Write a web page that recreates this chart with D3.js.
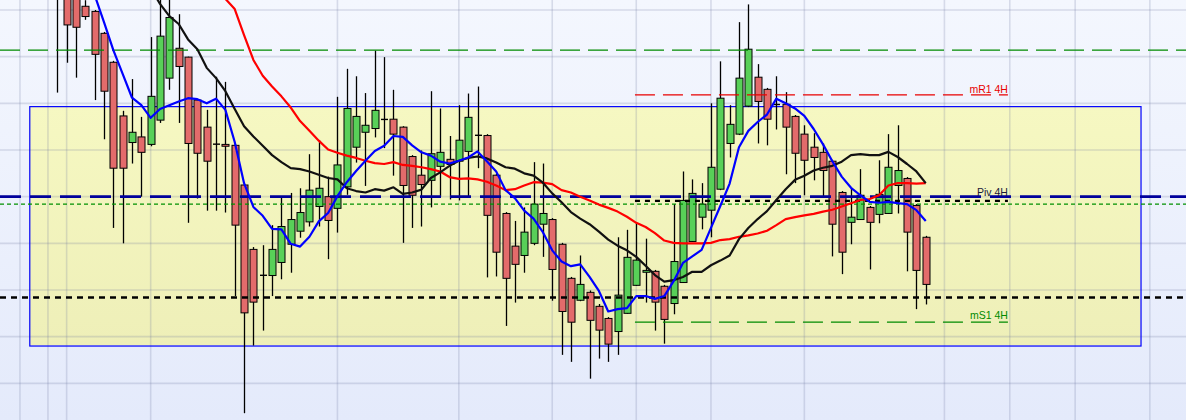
<!DOCTYPE html>
<html><head><meta charset="utf-8">
<script src="https://cdn.jsdelivr.net/npm/d3@7"></script>
<style>body{margin:0;background:#fff}svg{display:block}</style>
</head><body>
<svg id="chart" width="1186" height="420"></svg>
<script>
// ---- data (price units, candle index on x) ----
const openP = [188.6,183.2,182.8,180.8,179.7,175.0,168.8,157.3,151.6,152.8,
151.2,156.4,165.4,171.8,169.9,160.7,154.9,151.3,151.2,151.0,
142.5,128.7,123.2,123.1,125.9,129.8,132.6,134.6,137.9,140.0,
137.5,142.1,150.6,153.8,154.6,156.6,156.6,154.9,148.6,144.6,
143.5,146.5,148.0,147.6,149.7,153.2,153.1,144.6,136.4,129.4,
127.4,130.0,134.1,135.1,129.8,122.5,117.8,119.5,116.5,113.9,
111.1,115.0,121.0,123.8,124.0,120.8,117.1,121.6,130.4,135.6,
137.1,141.6,151.4,153.4,159.4,165.6,163.0,159.8,159.8,157.2,
153.4,150.6,149.5,147.6,140.9,134.5,135.1,137.7,136.2,136.4,
142.4,143.9,138.1,131.3];
const highP = [190.7,185.4,184.3,182.1,180.0,175.3,169.1,158.4,165.2,157.1,
174.2,182.6,182.8,179.1,170.0,160.9,158.6,165.7,164.6,151.3,
142.7,129.2,129.6,133.9,139.9,140.8,141.8,149.1,152.1,144.3,
161.4,167.4,165.8,162.2,171.3,169.9,162.9,155.1,148.9,149.9,
162.6,158.9,153.0,159.6,162.1,163.6,153.4,144.9,136.7,134.8,
137.7,147.4,147.1,135.4,130.1,122.8,127.4,119.9,117.0,114.2,
131.3,132.9,134.3,131.0,124.3,121.1,138.4,145.4,143.7,142.9,
160.0,169.0,159.6,177.4,181.2,168.4,163.3,165.8,162.4,157.5,
155.3,153.6,151.4,147.9,141.2,141.8,145.9,138.0,147.8,153.4,
155.3,144.2,138.4,131.6];
const lowP = [162.3,168.7,165.5,177.9,160.7,152.3,133.3,130.0,147.1,140.0,
150.8,155.8,162.9,155.8,134.4,139.6,137.0,137.0,136.6,118.7,
93.6,108.1,111.3,118.7,122.3,123.7,131.2,133.6,133.6,126.6,
132.3,140.4,147.3,142.3,152.7,150.4,144.5,130.1,133.3,133.6,
137.7,140.0,139.4,139.2,140.0,146.1,122.7,122.9,112.3,117.3,
123.7,129.6,127.1,117.7,106.1,104.6,117.6,101.0,105.3,104.6,
106.1,114.9,120.9,117.3,111.3,108.5,114.8,121.5,130.3,133.0,
131.3,141.4,148.4,153.2,159.2,151.4,151.0,154.4,144.8,142.9,
140.3,143.5,139.9,127.2,123.4,129.8,135.0,124.4,134.3,136.3,
136.4,124.0,115.9,116.9];
const closeP = [183.2,176.8,176.3,178.6,170.5,162.6,146.1,146.1,153.8,149.5,
161.5,174.4,178.4,167.9,151.4,149.3,147.6,151.2,150.8,133.9,
115.1,117.4,123.1,128.7,133.6,135.1,136.6,141.4,141.8,134.9,
146.8,158.9,157.2,155.3,158.5,156.5,153.4,142.4,140.3,142.6,
149.2,149.5,146.9,152.1,157.0,153.1,136.0,128.1,122.5,125.5,
132.4,138.4,136.4,124.4,115.4,113.1,121.2,113.5,111.4,108.4,
118.9,127.0,126.4,124.2,117.4,113.7,126.1,139.2,140.7,138.4,
146.3,161.1,155.5,165.4,171.6,160.4,156.6,159.7,154.9,149.3,
147.8,148.4,145.6,134.1,128.1,135.6,140.3,134.5,140.5,146.3,
145.6,132.4,124.2,121.2];

// moving averages, first candle index of each
const fastStart = 4;
const fastMA = [183.2,177.4,171.4,166.3,161.2,159.6,156.9,158.8,159.6,160.4,
161.1,160.9,160.0,161.0,158.6,151.7,142.9,137.8,135.9,133.1,
133.0,129.9,129.3,131.4,134.7,136.5,140.1,143.1,145.5,147.7,
149.8,150.9,153.0,152.8,151.0,149.5,148.8,147.5,147.1,147.7,
148.4,149.7,147.6,145.4,141.4,139.7,137.0,135.3,132.4,128.5,
126.1,125.1,125.5,122.8,119.8,115.4,115.9,116.1,118.7,118.7,
118.1,118.7,121.9,125.8,127.2,128.6,133.3,138.0,142.8,150.6,
154.1,156.0,157.6,161.0,160.0,158.9,157.3,154.5,151.2,147.6,
144.3,141.9,140.3,138.9,138.7,138.9,138.6,138.4,137.1,134.8];
const midStart = 10;
const midMA = [184.7,181.3,178.7,177.0,173.7,171.6,167.6,165.4,162.6,158.8,
155.1,152.9,150.9,148.9,147.4,146.1,145.9,145.4,144.7,144.0,
143.7,141.8,141.2,140.9,141.6,141.3,142.0,140.6,140.9,141.5,
144.0,145.2,146.6,147.7,148.3,148.6,148.2,147.3,146.3,146.0,
145.0,144.5,143.0,140.7,138.8,136.7,135.3,134.1,132.5,130.8,
129.5,128.5,127.1,125.2,123.2,121.8,122.1,122.8,123.9,123.9,
125.3,126.3,127.4,130.9,133.3,135.2,136.9,139.3,141.6,143.6,
144.5,145.6,146.2,146.6,147.5,148.9,149.1,148.9,148.9,149.6,
148.5,147.0,145.4,142.9];
const slowStart = 17;
const slowMA = [186.4,182.4,180.2,174.6,169.3,165.9,163.6,161.5,159.1,156.2,
154.1,152.0,150.1,149.4,148.8,148.3,147.7,147.2,147.0,147.4,
146.8,146.6,146.3,145.9,145.4,144.2,143.8,143.9,143.7,143.2,
142.4,141.4,141.6,142.4,143.1,143.0,142.7,141.4,140.9,140.0,
139.2,138.3,137.6,136.8,135.7,134.4,133.5,132.2,130.6,130.1,
130.0,130.0,130.0,130.1,130.7,130.9,131.4,131.7,132.1,132.7,
133.9,135.2,135.6,136.0,136.3,136.8,137.2,137.9,138.6,139.3,
139.5,140.3,142.4,142.9,142.9,142.8,142.9];

// horizontal levels
const levelTop = 171.4;     // green dashed
const levelR1 = 161.8;      // mR1 4H
const levelPiv = 140.0;     // Piv 4H
const levelPivB = 139.1;    // black short dashed
const levelDot = 138.4;     // green dotted
const levelS = 118.4;       // black dashed
const levelS1 = 113.1;      // mS1 4H
const zone = {x0:-3.0, x1:116.0, top:159.4, bottom:108.1};
const levelsFrom = 61.86, levelsTo = 101.8;
const priceGrid = [100,110,120,130,140,150,160,170,180];
const timeGrid = [-4,-1,1,10,30,43,53,62,70,80,95,102,109,117];

// ---- drawing ----
const W = 1186, H = 420;
const svg = d3.select('#chart');
const x = d3.scaleLinear().domain([-6.136, 120.87]).range([0, W]);
const y = d3.scaleLinear().domain([100, 180]).range([383.33, 10]);

const defs = svg.append('defs');
const bg = defs.append('linearGradient').attr('id','bg').attr('x1',0).attr('y1',0).attr('x2',0).attr('y2',1);
bg.append('stop').attr('offset','0%').attr('stop-color','#f4f7fe');
bg.append('stop').attr('offset','100%').attr('stop-color','#e4eafb');
const zg = defs.append('linearGradient').attr('id','zg').attr('x1',0).attr('y1',0).attr('x2',0).attr('y2',1);
zg.append('stop').attr('offset','0%').attr('stop-color','#f6f8c2');
zg.append('stop').attr('offset','100%').attr('stop-color','#eeefb8');

svg.append('rect').attr('width',W).attr('height',H).attr('fill','url(#bg)');

svg.append('rect')
  .attr('x', x(zone.x0)).attr('y', y(zone.top))
  .attr('width', x(zone.x1)-x(zone.x0)).attr('height', y(zone.bottom)-y(zone.top))
  .attr('fill','url(#zg)');

const grid = svg.append('g').attr('stroke','rgba(110,120,160,0.22)').attr('stroke-width',1.6);
grid.selectAll('line.h').data(priceGrid).enter().append('line')
  .attr('x1',0).attr('x2',W).attr('y1',d=>y(d)).attr('y2',d=>y(d));
grid.selectAll('line.v').data(timeGrid).enter().append('line')
  .attr('y1',0).attr('y2',H).attr('x1',d=>x(d)).attr('x2',d=>x(d));

svg.append('rect')
  .attr('x', x(zone.x0)+0.5).attr('y', y(zone.top)+0.5)
  .attr('width', x(zone.x1)-x(zone.x0)).attr('height', y(zone.bottom)-y(zone.top))
  .attr('fill','none').attr('stroke','#0000ff').attr('stroke-width',1.2);

// candles
const candles = openP.map((o,i)=>({i, o, h:highP[i], l:lowP[i], c:closeP[i]}));
const cg = svg.append('g');
const bw = 7;
cg.selectAll('line.w').data(candles).enter().append('line')
  .attr('x1',d=>Math.round(x(d.i))+0.5).attr('x2',d=>Math.round(x(d.i))+0.5)
  .attr('y1',d=>y(d.h)).attr('y2',d=>y(d.l))
  .attr('stroke','#000').attr('stroke-width',1.3);
cg.selectAll('rect.b').data(candles.filter(d=>Math.abs(d.o-d.c)>=0.15)).enter().append('rect')
  .attr('x',d=>Math.round(x(d.i))+0.5-bw/2).attr('width',bw)
  .attr('y',d=>y(Math.max(d.o,d.c))).attr('height',d=>Math.max(1,Math.abs(y(d.o)-y(d.c))))
  .attr('fill',d=>d.c>d.o?'#58d058':'#e36b6b')
  .attr('stroke','#000').attr('stroke-width',1);
cg.selectAll('line.d').data(candles.filter(d=>Math.abs(d.o-d.c)<0.15)).enter().append('line')
  .attr('x1',d=>Math.round(x(d.i))+0.5-bw/2).attr('x2',d=>Math.round(x(d.i))+0.5+bw/2)
  .attr('y1',d=>y((d.o+d.c)/2)).attr('y2',d=>y((d.o+d.c)/2))
  .attr('stroke','#000').attr('stroke-width',1.4);

// levels
function hline(v, a, b, color, w, dash){
  svg.append('line').attr('x1',a).attr('x2',b).attr('y1',y(v)).attr('y2',y(v))
    .attr('stroke',color).attr('stroke-width',w).attr('stroke-dasharray',dash);
}
hline(levelTop, 0, W, '#008a00', 1.3, '20,8');
hline(levelR1, x(levelsFrom), x(levelsTo), '#e80000', 1.3, '20,8');
hline(levelS1, x(levelsFrom), x(levelsTo), '#008a00', 1.3, '20,8');
hline(levelDot, 0, W, '#009000', 1.2, '4,3');
hline(levelPiv, 0, W, '#00009c', 2.6, '21,9');
hline(levelPivB, x(levelsFrom), x(levelsTo), '#000', 2.2, '5,5');
hline(levelS, 0, W, '#000', 2.4, '6,5');

// moving averages
function maLine(arr, start, color){
  const line = d3.line().x((d,k)=>x(start+k)).y(d=>y(d));
  svg.append('path').datum(arr).attr('d',line).attr('fill','none')
    .attr('stroke',color).attr('stroke-width',2.2).attr('stroke-linejoin','round');
}
maLine(slowMA, slowStart, '#ff0000');
maLine(midMA, midStart, '#111111');
maLine(fastMA, fastStart, '#0000ff');

// labels
const lab = svg.append('g').attr('font-family','"Liberation Sans", Arial, sans-serif').attr('font-size',10.5).attr('text-anchor','end');
lab.append('text').attr('x',x(levelsTo)).attr('y',y(levelR1)-2).attr('fill','#e80000').text('mR1 4H');
lab.append('text').attr('x',x(levelsTo)).attr('y',y(levelPiv)-1).attr('fill','#1a1a3a').text('Piv 4H');
lab.append('text').attr('x',x(levelsTo)).attr('y',y(levelS1)-3).attr('fill','#008a00').text('mS1 4H');
</script>
</body></html>
